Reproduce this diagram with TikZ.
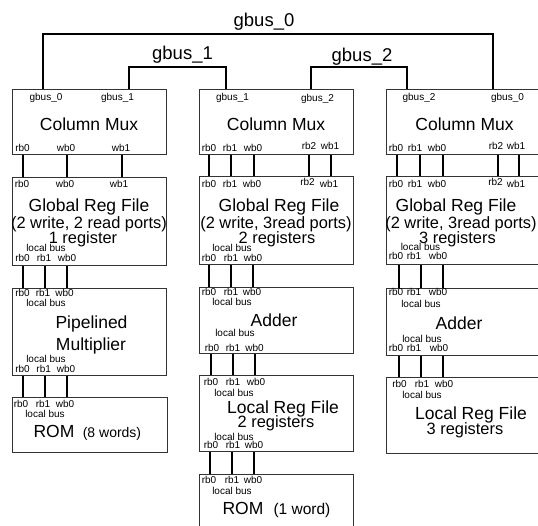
\documentclass[tikz,border=0pt]{standalone}
\usepackage{fontspec}
\setmainfont{Liberation Sans}
\tikzset{
  blk/.style={draw=black!80, line width=0.9pt, rectangle, inner sep=0pt, anchor=north west, minimum width=154pt},
  wire/.style={black, line width=1.7pt},
  bus/.style={black, line width=1.8pt},
  pin/.style={font=\fontsize{10}{11}\selectfont, inner sep=0pt, anchor=base},
  big/.style={font=\fontsize{17.5}{19}\selectfont, inner sep=0pt, anchor=base},
  sub/.style={font=\fontsize{16.4}{18}\selectfont, inner sep=0pt, anchor=base},
  buslbl/.style={font=\fontsize{18.5}{20}\selectfont, inner sep=0pt, anchor=base},
}
% rb0 rb1 wb0 row: name, three x, baseline
\newcommand{\trio}[5]{%
  \node[pin] (#1a) at (#2,#5) {rb0};
  \node[pin] (#1b) at (#3,#5) {rb1};
  \node[pin] (#1c) at (#4,#5) {wb0};
}
\newcommand{\localbus}[3]{%
  \node[pin] (#1) at (#2,#3) {local bus};
}

\begin{document}
\begin{tikzpicture}[x=1pt, y=-1pt]
  \fill[white] (0,0) rectangle (538,526);
  \useasboundingbox (0,0) rectangle (538,526);
  \clip (0,0) rectangle (538,526);

  % ---------------- left column ----------------
  \node[blk, minimum height=65pt] (lmux) at (12,89) {};
  \node[blk, minimum height=88pt] (lgrf) at (12,177) {};
  \node[blk, minimum height=87pt] (lmul) at (12,288) {};
  \node[blk, minimum height=55pt, minimum width=155pt] (lrom) at (12,397) {};
  \foreach \d in {11,55,110} { \draw[wire] ([xshift=\d pt]lmux.south west) -- ([xshift=\d pt]lgrf.north west); }
  \foreach \d in {11,33,55} {
    \draw[wire] ([xshift=\d pt]lgrf.south west) -- ([xshift=\d pt]lmul.north west);
    \draw[wire] ([xshift=\d pt]lmul.south west) -- ([xshift=\d pt]lrom.north west);
  }
  \node[pin] (lmuxg0) at (46,101) {gbus\_0};
  \node[pin] (lmuxg1) at (117.5,101) {gbus\_1};
  \node[big] (lmuxt) at (89,130.3) {Column Mux};
  \node[pin] (lmuxr0) at (22.5,151.5) {rb0};
  \node[pin] (lmuxw0) at (66,151.5) {wb0};
  \node[pin] (lmuxw1) at (121,151.5) {wb1};
  \node[pin] (lgrfr0) at (22,187.5) {rb0};
  \node[pin] (lgrfw0) at (65,187.5) {wb0};
  \node[pin] (lgrfw1) at (119,187.5) {wb1};
  \node[big] (lgrft) at (89,211.5) {Global Reg File};
  \node[sub] (lgrfp) at (89,228.5) {(2 write, 2 read ports)};
  \node[sub] (lgrfn) at (83,243.5) {1 register};
  \localbus{lgrfl}{46}{251.5}
  \trio{lgrfo}{22.5}{44}{67}{261.5}
  \trio{lmuli}{22.5}{43}{64.5}{296.5}
  \localbus{lmull}{46}{306.5}
  \node[big] (lmult) at (91.5,328.5) {Pipelined};
  \node[big] (lmulu) at (91,350.5) {Multiplier};
  \localbus{lmulm}{46}{362.5}
  \trio{lmulo}{22.5}{43.7}{66}{372.5}
  \trio{lromi}{21}{43}{65}{407.5}
  \localbus{lroml}{45}{417.5}
  \node[big] (lromt) at (54,437.3) {ROM};
  \node[pin, font=\fontsize{14}{16}\selectfont] (lromw) at (112,437.3) {(8 words)};

  % ---------------- middle column ----------------
  \node[blk, minimum height=65pt] (mmux) at (199,89) {};
  \node[blk, minimum height=88pt] (mgrf) at (199,176) {};
  \node[blk, minimum height=66pt] (madd) at (199,287) {};
  \node[blk, minimum height=76pt] (mlrf) at (199,375) {};
  \node[blk, minimum height=80pt] (mrom) at (199,474) {};
  \foreach \d in {10,32,55,110,132} { \draw[wire] ([xshift=\d pt]mmux.south west) -- ([xshift=\d pt]mgrf.north west); }
  \foreach \d in {10,32,54} { \draw[wire] ([xshift=\d pt]mgrf.south west) -- ([xshift=\d pt]madd.north west); }
  \foreach \d in {12,34,56} { \draw[wire] ([xshift=\d pt]madd.south west) -- ([xshift=\d pt]mlrf.north west); }
  \foreach \d in {11,33,55} { \draw[wire] ([xshift=\d pt]mlrf.south west) -- ([xshift=\d pt]mrom.north west); }
  \node[pin] (mmuxg1) at (232.5,101) {gbus\_1};
  \node[pin] (mmuxg2) at (317.5,102) {gbus\_2};
  \node[big] (mmuxt) at (276,130.3) {Column Mux};
  \trio{mmuxo}{209}{230}{253}{151.5}
  \node[pin] (mmuxr2) at (309,149.5) {rb2};
  \node[pin] (mmuxw1) at (330,149.5) {wb1};
  \trio{mgrfi}{209}{230}{252}{187.5}
  \node[pin] (mgrfr2) at (307.5,185.5) {rb2};
  \node[pin] (mgrfw1) at (329,187.5) {wb1};
  \node[big] (mgrft) at (279,211.5) {Global Reg File};
  \node[sub] (mgrfp) at (276,228.5) {(2 write, 3read ports)};
  \node[sub] (mgrfn) at (277,243.5) {2 registers};
  \localbus{mgrfl}{232}{251.5}
  \trio{mgrfo}{209}{231}{253}{261.5}
  \trio{maddi}{209}{231}{252}{295.5}
  \localbus{maddl}{232}{305.5}
  \node[big] (maddt) at (274,326.3) {Adder};
  \localbus{maddm}{235}{336.5}
  \trio{maddo}{212}{233}{254.5}{351.5}
  \trio{mlrfi}{211}{233}{256}{385.5}
  \localbus{mlrfl}{234}{396.5}
  \node[big] (mlrft) at (283,413.5) {Local Reg File};
  \node[sub] (mlrfn) at (276,427.5) {2 registers};
  \localbus{mlrfm}{234}{440.5}
  \trio{mlrfo}{211}{233}{254}{448.5}
  \trio{mromi}{209}{232}{253}{483.5}
  \localbus{mroml}{232}{494.5}
  \node[big] (mromt) at (243,514.3) {ROM};
  \node[pin, font=\fontsize{15.5}{17}\selectfont] (mromw) at (302,514.3) {(1 word)};

  % ---------------- right column ----------------
  \node[blk, minimum height=65pt] (rmux) at (386,89) {};
  \node[blk, minimum height=88pt] (rgrf) at (386,176) {};
  \node[blk, minimum height=67pt] (radd) at (386,288) {};
  \node[blk, minimum height=76pt] (rlrf) at (386,377) {};
  \foreach \d in {11,34,57,112,133} { \draw[wire] ([xshift=\d pt]rmux.south west) -- ([xshift=\d pt]rgrf.north west); }
  \foreach \d in {13,35,57} {
    \draw[wire] ([xshift=\d pt]rgrf.south west) -- ([xshift=\d pt]radd.north west);
    \draw[wire] ([xshift=\d pt]radd.south west) -- ([xshift=\d pt]rlrf.north west);
  }
  \node[pin] (rmuxg2) at (419,101) {gbus\_2};
  \node[pin] (rmuxg0) at (507.5,101) {gbus\_0};
  \node[big] (rmuxt) at (464.5,130.3) {Column Mux};
  \trio{rmuxo}{396}{415}{437}{151.5}
  \node[pin] (rmuxr2) at (496,149.5) {rb2};
  \node[pin] (rmuxw1) at (516,150) {wb1};
  \trio{rgrfi}{396}{415}{437}{187.5}
  \node[pin] (rgrfr2) at (495.5,185.5) {rb2};
  \node[pin] (rgrfw1) at (516,187.5) {wb1};
  \node[big] (rgrft) at (456,211.5) {Global Reg File};
  \node[sub] (rgrfp) at (461,228.5) {(2 write, 3read ports)};
  \node[sub] (rgrfn) at (457.5,243.5) {3 registers};
  \localbus{rgrfl}{420.5}{250.5}
  \trio{rgrfo}{396}{414}{438}{259.5}
  \trio{raddi}{396}{414}{438}{295.5}
  \localbus{raddl}{421}{307.5}
  \node[big] (raddt) at (459,329.3) {Adder};
  \localbus{raddm}{422}{342.5}
  \trio{raddo}{396}{414}{439}{351.5}
  \trio{rlrfi}{399.5}{422}{444}{387.5}
  \localbus{rlrfl}{422}{398.5}
  \node[big] (rlrft) at (471,419.5) {Local Reg File};
  \node[sub] (rlrfn) at (465,434.5) {3 registers};

  % ---------------- global buses ----------------
  \coordinate (g0bar) at (268,34);
  \coordinate (g1bar) at (178,67);
  \coordinate (g2bar) at (359,67);
  \draw[bus] ([xshift=31pt]lmux.north west) |- (g0bar) -| ([xshift=107pt]rmux.north west);
  \draw[bus] ([xshift=117pt]lmux.north west) |- (g1bar) -| ([xshift=27pt]mmux.north west);
  \draw[bus] ([xshift=112pt]mmux.north west) |- (g2bar) -| ([xshift=21pt]rmux.north west);
  \node[buslbl] (gbus0) at (264,26.5) {gbus\_0};
  \node[buslbl] (gbus1) at (182.5,60) {gbus\_1};
  \node[buslbl] (gbus2) at (362,62) {gbus\_2};
\end{tikzpicture}
\end{document}
